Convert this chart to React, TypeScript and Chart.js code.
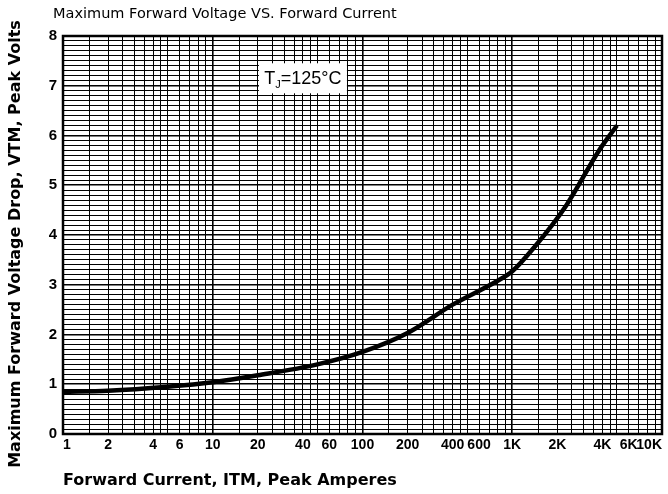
import React, { useEffect, useRef } from "react";
import { Chart, registerables } from "chart.js";

Chart.register(...registerables);

const chartTitle = "Maximum Forward Voltage VS. Forward Current";
const xAxisTitle = "Forward Current, ITM, Peak Amperes";
const yAxisTitle = "Maximum Forward Voltage Drop, VTM, Peak Volts";

const currentA = [1, 2, 5, 10, 20, 50, 100, 200, 400, 800, 1000, 1400, 2300, 3800, 5000];
const voltageV = [0.85, 0.87, 0.95, 1.04, 1.18, 1.4, 1.65, 2.03, 2.6, 3.08, 3.27, 3.75, 4.6, 5.7, 6.2];

const xGridMultipliers = [1, 1.5, 2, 2.5, 3, 3.5, 4, 4.5, 5, 6, 7, 8, 9];
const xDecades = [1, 10, 100, 1000];
const xLabelValues = [1, 2, 4, 6, 10, 20, 40, 60, 100, 200, 400, 600, 1000, 2000, 4000, 6000, 10000];
const xLabelTexts = ["1", "2", "4", "6", "10", "20", "40", "60", "100", "200", "400", "600", "1K", "2K", "4K", "6K", "10K"];

const annotationX = 40;
const annotationY = 7.15;

const FONT = "'Liberation Sans', Arial, sans-serif";
const WIDE = "'DejaVu Sans', Arial, sans-serif";

export default function App() {
  const ref = useRef<HTMLCanvasElement | null>(null);

  useEffect(() => {
    const canvas = ref.current;
    if (!canvas) return;

    const xTickValues: number[] = [];
    xDecades.forEach((d) => xGridMultipliers.forEach((m) => xTickValues.push(+(d * m).toFixed(4))));
    xTickValues.push(10000);

    const labelFor = (v: number) => {
      const i = xLabelValues.findIndex((lv) => Math.abs(lv - v) < 1e-6);
      return i >= 0 ? xLabelTexts[i] : "";
    };

    const overlay = {
      id: "overlay",
      afterDraw(chart: any) {
        const { ctx, chartArea, scales } = chart;
        ctx.save();
        // chart title
        ctx.fillStyle = "#000";
        ctx.font = `14.5px ${WIDE}`;
        ctx.textAlign = "left";
        ctx.textBaseline = "middle";
        ctx.fillText(chartTitle, chartArea.left - 10, 14);

        // y axis title
        ctx.save();
        ctx.translate(16, 244);
        ctx.rotate(-Math.PI / 2);
        ctx.textAlign = "center";
        ctx.font = `bold 16px ${WIDE}`;
        ctx.fillText(yAxisTitle, 0, 0);
        ctx.restore();

        // annotation box
        const cx = scales.x.getPixelForValue(annotationX);
        const cy = scales.y.getPixelForValue(annotationY);
        const w = 88;
        const h = 30;
        ctx.fillStyle = "#fff";
        ctx.fillRect(cx - w / 2, cy - h / 2, w, h);
        ctx.fillStyle = "#000";
        ctx.textAlign = "left";
        ctx.textBaseline = "alphabetic";
        const big = `18px ${FONT}`;
        const small = `11px ${FONT}`;
        ctx.font = big;
        const tW = ctx.measureText("T").width;
        ctx.font = small;
        const jW = ctx.measureText("J").width;
        ctx.font = big;
        const restW = ctx.measureText("=125°C").width;
        let x0 = cx - (tW + jW + restW) / 2;
        const base = cy + 6;
        ctx.fillText("T", x0, base);
        x0 += tW;
        ctx.font = small;
        ctx.fillText("J", x0, base + 4);
        x0 += jW;
        ctx.font = big;
        ctx.fillText("=125°C", x0, base);

        // frame
        ctx.strokeStyle = "#000";
        ctx.lineWidth = 2.5;
        ctx.strokeRect(chartArea.left, chartArea.top, chartArea.right - chartArea.left, chartArea.bottom - chartArea.top);
        ctx.restore();
      },
    };

    const chart = new Chart(canvas, {
      type: "line",
      data: {
        datasets: [
          {
            data: currentA.map((c, i) => ({ x: c, y: voltageV[i] })),
            borderColor: "#000",
            borderWidth: 4.5,
            pointRadius: 0,
            cubicInterpolationMode: "monotone",
            fill: false,
          },
        ],
      },
      options: {
        animation: false,
        responsive: false,
        maintainAspectRatio: false,
        layout: { padding: { top: 36, right: 6, left: 0, bottom: 0 } },
        plugins: {
          legend: { display: false },
          tooltip: { enabled: false },
          title: { display: false },
        },
        scales: {
          x: {
            type: "logarithmic",
            min: 1,
            max: 10000,
            afterBuildTicks: (s: any) => {
              s.ticks = xTickValues.map((v) => ({ value: v }));
            },
            afterFit: (s: any) => {
              s.height = 60;
              s.paddingLeft = 0;
              s.paddingRight = 0;
            },
            ticks: {
              autoSkip: false,
              maxRotation: 0,
              minRotation: 0,
              align: "inner",
              padding: 3,
              color: "#000",
              font: { family: FONT, size: 14, weight: "bold" },
              callback: (v: any) => labelFor(Number(v)),
            },
            grid: {
              color: "#000",
              lineWidth: (c: any) => {
                const v = c.tick ? c.tick.value : 0;
                const lg = Math.log10(v);
                return Math.abs(lg - Math.round(lg)) < 1e-6 ? 1.6 : 1;
              },
              drawTicks: false,
            },
            border: { display: false },
            title: {
              display: true,
              text: xAxisTitle,
              align: "start",
              color: "#000",
              font: { family: WIDE, size: 16, weight: "bold" },
              padding: { top: 0, bottom: 4 },
            },
          },
          y: {
            type: "linear",
            min: 0,
            max: 8,
            afterFit: (s: any) => {
              s.width = 63;
            },
            ticks: {
              stepSize: 0.1,
              autoSkip: false,
              padding: 6,
              color: "#000",
              font: { family: FONT, size: 15, weight: "bold" },
              callback: (v: any) => {
                const n = Number(v);
                return Math.abs(n - Math.round(n)) < 1e-6 ? String(Math.round(n)) : "";
              },
            },
            grid: {
              color: "#000",
              lineWidth: (c: any) => {
                const v = c.tick ? c.tick.value : 0;
                return Math.abs(v - Math.round(v)) < 1e-6 ? 1.6 : 1;
              },
              drawTicks: false,
            },
            border: { display: false },
            title: { display: false },
          },
        },
      },
      plugins: [overlay],
    } as any);

    return () => chart.destroy();
  }, []);

  return (
    <div style={{ position: "absolute", left: 0, top: 0, width: 668, height: 494, background: "#fff" }}>
      <canvas ref={ref} width={668} height={494} style={{ width: 668, height: 494 }} />
    </div>
  );
}
